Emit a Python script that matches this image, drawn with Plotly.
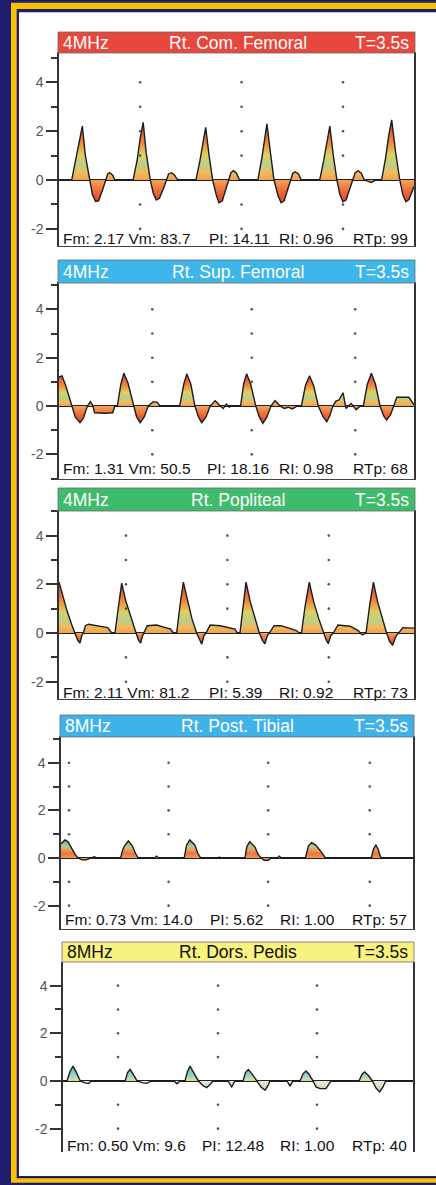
import plotly.graph_objects as go

W, H = 436, 1185

# ---------------- data ----------------
panel_names = ["Rt. Com. Femoral", "Rt. Sup. Femoral", "Rt. Popliteal",
               "Rt. Post. Tibial", "Rt. Dors. Pedis"]
probe_freqs = ["4MHz", "4MHz", "4MHz", "8MHz", "8MHz"]
sweep_labels = ["T=3.5s", "T=3.5s", "T=3.5s", "T=3.5s", "T=3.5s"]
stats_fm_vm = ["Fm: 2.17 Vm: 83.7", "Fm: 1.31 Vm: 50.5", "Fm: 2.11 Vm: 81.2",
               "Fm: 0.73 Vm: 14.0", "Fm: 0.50 Vm: 9.6"]
stats_pi = ["PI: 14.11", "PI: 18.16", "PI: 5.39", "PI: 5.62", "PI: 12.48"]
stats_ri = ["RI: 0.96", "RI: 0.98", "RI: 0.92", "RI: 1.00", "RI: 1.00"]
stats_rtp = ["RTp: 99", "RTp: 68", "RTp: 73", "RTp: 57", "RTp: 40"]

y_tick_vals = [-2, 0, 2, 4]
y_tick_text = ["-2", "0", "2", "4"]
y_minor_vals = [-3, -1, 1, 3, 5]
time_range = [0, 3.5]
marker_levels = [4, 3, 2, 1, -1, -2]

# Rt. Common Femoral (time s, velocity)
cf_t = [0.125, 0.16, 0.20, 0.23, 0.26, 0.30, 0.33, 0.36, 0.39, 0.43, 0.46, 0.48, 0.50, 0.53, 0.55,
        0.73, 0.77, 0.80, 0.83, 0.86, 0.90, 0.93, 0.96, 0.99, 1.03, 1.055, 1.08, 1.11, 1.14, 1.17,
        1.35, 1.39, 1.42, 1.446, 1.48, 1.515, 1.55, 1.577, 1.61, 1.645, 1.67, 1.695, 1.72, 1.75, 1.78,
        1.96, 2.00, 2.03, 2.05, 2.085, 2.12, 2.16, 2.19, 2.22, 2.255, 2.28, 2.305, 2.33, 2.36, 2.39,
        2.57, 2.61, 2.64, 2.67, 2.705, 2.74, 2.77, 2.80, 2.83, 2.865, 2.895, 2.92, 2.95, 2.98, 3.01, 3.08, 3.12,
        3.18, 3.22, 3.25, 3.28, 3.32, 3.36, 3.39, 3.42, 3.45, 3.50]
cf_v = [0, 0.7, 1.6, 2.21, 1.0, 0, -0.6, -0.88, -0.85, -0.4, 0, 0.25, 0.3, 0.2, 0,
        0, 0.8, 1.7, 2.36, 1.1, 0, -0.55, -0.82, -0.75, -0.35, 0, 0.25, 0.3, 0.2, 0,
        0, 0.8, 1.6, 2.16, 1.0, 0, -0.6, -0.93, -0.85, -0.4, 0, 0.3, 0.38, 0.28, 0,
        0, 0.9, 1.8, 2.3, 1.1, 0, -0.65, -0.93, -0.85, -0.4, 0, 0.28, 0.34, 0.25, 0,
        0, 0.8, 1.6, 2.21, 1.0, 0, -0.6, -0.89, -0.82, -0.4, 0, 0.3, 0.38, 0.28, 0, -0.1, 0,
        0, 0.9, 1.8, 2.46, 1.1, 0, -0.6, -0.89, -0.8, -0.27]
cf_marks = [0.80, 1.80, 2.80]

# Rt. Superficial Femoral
sf_t = [0.0, 0.03, 0.07, 0.125, 0.16, 0.207, 0.24, 0.28, 0.31, 0.335, 0.35, 0.45, 0.53, 0.55,
        0.575, 0.61, 0.64, 0.68, 0.733, 0.765, 0.80, 0.84, 0.88, 0.93, 0.97, 0.995,
        1.19, 1.23, 1.26, 1.30, 1.34, 1.375, 1.407, 1.45, 1.49, 1.54, 1.59, 1.62, 1.65, 1.68, 1.70,
        1.79, 1.82, 1.85, 1.89, 1.94, 1.975, 2.01, 2.05, 2.09, 2.13, 2.18, 2.22, 2.26, 2.30, 2.35,
        2.39, 2.43, 2.47, 2.51, 2.557, 2.60, 2.64, 2.67, 2.70, 2.73, 2.76, 2.80, 2.83, 2.88, 2.93, 2.97,
        3.00, 3.04, 3.08, 3.12, 3.165, 3.20, 3.23, 3.27, 3.30, 3.33, 3.45, 3.50]
sf_v = [1.2, 1.25, 0.8, 0, -0.45, -0.69, -0.5, 0, 0.18, 0, -0.28, -0.3, -0.28, 0,
        0, 0.9, 1.36, 0.95, 0, -0.45, -0.69, -0.45, 0, 0.18, 0.15, 0,
        0, 0.9, 1.33, 0.9, 0, -0.45, -0.69, -0.45, 0, 0.22, 0, -0.1, 0.08, -0.05, 0,
        0, 0.9, 1.33, 0.9, 0, -0.45, -0.72, -0.45, 0, 0.22, 0, -0.1, -0.05, -0.12, 0,
        0, 0.85, 1.25, 0.85, 0, -0.42, -0.65, -0.4, 0, 0.2, 0.25, 0.55, -0.1, 0.1, -0.15, 0,
        0, 0.9, 1.36, 0.9, 0, -0.4, -0.58, -0.35, 0, 0.36, 0.36, 0.05]
sf_marks = [0.92, 1.90, 2.92]

# Rt. Popliteal
pop_t = [0.0, 0.04, 0.08, 0.125, 0.158, 0.185, 0.207, 0.225, 0.24, 0.26, 0.29, 0.37, 0.48, 0.52,
         0.552, 0.59, 0.618, 0.66, 0.71, 0.76, 0.785, 0.805, 0.825, 0.838, 0.87, 0.96, 1.10, 1.127,
         1.16, 1.195, 1.226, 1.27, 1.31, 1.357, 1.385, 1.407, 1.43, 1.449, 1.49, 1.59, 1.735, 1.758,
         1.784, 1.815, 1.844, 1.885, 1.93, 1.975, 2.005, 2.03, 2.055, 2.074, 2.12, 2.19, 2.34, 2.37,
         2.39, 2.43, 2.468, 2.51, 2.56, 2.606, 2.635, 2.655, 2.68, 2.705, 2.75, 2.87, 2.95, 2.99, 3.017,
         3.027, 3.065, 3.10, 3.14, 3.185, 3.23, 3.26, 3.29, 3.32, 3.345, 3.39, 3.50]
pop_v = [2.09, 1.5, 0.9, 0.35, 0, -0.3, -0.41, -0.1, 0, 0.3, 0.36, 0.3, 0.22, 0,
         0, 1.2, 2.05, 1.3, 0.6, 0, -0.3, -0.41, -0.1, 0, 0.3, 0.33, 0.16, 0,
         0, 1.2, 2.09, 1.3, 0.6, 0, -0.3, -0.46, -0.1, 0, 0.33, 0.3, 0.16, 0,
         0, 1.2, 2.09, 1.3, 0.6, 0, -0.3, -0.44, -0.1, 0, 0.3, 0.3, 0.1, 0,
         0, 1.2, 2.09, 1.3, 0.6, 0, -0.3, -0.44, -0.1, 0, 0.33, 0.28, 0.1, -0.08, 0,
         0, 1.2, 2.09, 1.3, 0.6, 0, -0.35, -0.5, -0.15, 0, 0.22, 0.2]
pop_marks = [0.66, 1.66, 2.66]

# Rt. Posterior Tibial
pt_t = [0.0, 0.02, 0.04, 0.07, 0.10, 0.14, 0.17, 0.21, 0.25, 0.29, 0.33, 0.36,
        0.593, 0.61, 0.63, 0.67, 0.71, 0.74, 0.768, 0.93, 0.95, 0.97,
        1.225, 1.24, 1.25, 1.28, 1.33, 1.36, 1.39, 1.56, 1.575, 1.59,
        1.83, 1.84, 1.85, 1.877, 1.93, 1.96, 1.99, 2.02, 2.06, 2.09, 2.15, 2.17, 2.19,
        2.43, 2.445, 2.46, 2.49, 2.53, 2.58, 2.61, 2.63,
        3.086, 3.095, 3.105, 3.13, 3.155, 3.17, 3.185, 3.50]
pt_v = [0.6, 0.7, 0.76, 0.68, 0.45, 0.15, 0, -0.08, -0.08, 0, 0.05, 0,
        0, 0.3, 0.5, 0.72, 0.5, 0.2, 0, 0, 0.08, 0,
        0, 0.35, 0.55, 0.76, 0.55, 0.2, 0, 0, 0.04, 0,
        0, 0.3, 0.5, 0.69, 0.45, 0.15, 0, -0.1, -0.1, 0, 0, 0.08, 0,
        0, 0.3, 0.5, 0.65, 0.55, 0.3, 0.1, 0,
        0, 0.2, 0.35, 0.55, 0.35, 0.12, 0, 0]
pt_marks = [0.08, 1.07, 2.06, 3.07]

# Rt. Dorsalis Pedis
dp_t = [0.0, 0.04, 0.07, 0.10, 0.135, 0.173, 0.22, 0.256, 0.28,
        0.622, 0.645, 0.672, 0.70, 0.74, 0.80, 0.84, 0.88,
        1.11, 1.14, 1.17,
        1.22, 1.245, 1.27, 1.31, 1.354, 1.40, 1.437, 1.47, 1.50,
        1.65, 1.687, 1.72,
        1.80, 1.825, 1.853, 1.89, 1.936, 1.98, 2.02, 2.05, 2.07,
        2.24, 2.27, 2.30,
        2.37, 2.40, 2.43, 2.46, 2.50, 2.53, 2.57, 2.63, 2.68,
        2.96, 2.99, 3.017, 3.05, 3.094, 3.13, 3.167, 3.20, 3.227, 3.50]
dp_v = [0, 0, 0.4, 0.62, 0.35, 0, -0.08, -0.11, 0,
        0, 0.35, 0.48, 0.3, 0, -0.08, -0.1, 0,
        0, -0.12, 0,
        0, 0.4, 0.62, 0.35, 0, -0.2, -0.28, -0.15, 0,
        0, -0.25, 0,
        0, 0.35, 0.48, 0.3, 0, -0.25, -0.39, -0.2, 0,
        0, -0.22, 0,
        0, 0.3, 0.42, 0.28, 0, -0.25, -0.32, -0.32, 0,
        0, 0.28, 0.38, 0.25, 0, -0.3, -0.46, -0.25, 0, 0]
dp_marks = [0.55, 1.55, 2.54]

series_t = [cf_t, sf_t, pop_t, pt_t, dp_t]
series_v = [cf_v, sf_v, pop_v, pt_v, dp_v]
series_marks = [cf_marks, sf_marks, pop_marks, pt_marks, dp_marks]

# ---------------- layout / style (pixels) ----------------
NAVY = "#1f1b6e"
GOLD = "#f6c300"
bar_colors = ["#e8473d", "#3db6ea", "#3fbb6c", "#3fb2ea", "#f8f27e"]
bar_text_colors = ["white", "white", "white", "white", "#111111"]
# x0, x1, bar_top, plot_top, plot_bottom
geom = [
    (59, 414, 32, 53, 246),
    (59, 414, 260, 283, 479),
    (59, 414, 488, 511, 699),
    (61, 413, 715, 737, 929),
    (63, 413, 942, 962, 1152),
]
y_ranges = [[-2.7, 5.2], [-3.02, 5.09], [-2.71, 5.01], [-2.98, 5.08], [-2.98, 4.99]]
show_bottom_line = [True, True, True, True, False]
stats_y = [238, 468, 692, 919, 1145]
pi_x = [207, 205, 207, 208, 200]
ri_x = [277, 277, 277, 278, 278]

# fill palettes: (neg_far, neg_mid, neg_near, pos_base, pos_12, pos_26, pos_42, pos_62, pos_top)
warm = ["#e3402c", "#ec6a36", "#f3a25a", "#f2a052", "#efbb5c", "#b9d08c", "#dfcf5e", "#f08a3e", "#e2382b"]
tibial = ["#e3502f", "#ee7a40", "#f3a25a", "#f09a55", "#ef8848", "#ec7444", "#e99c58", "#b8c890", "#5fb3a8"]
pedis = ["#b8c8c0", "#d4dcc8", "#e8ead8", "#e6d67a", "#cfe0a0", "#a6d8c6", "#8fcfcf", "#86c2d4", "#6fb3c8"]
palettes = [warm, warm, warm, tibial, pedis]


def fx(p):
    return p / W


def fy(p):
    return 1 - p / H


def gradient(vmin, vmax, pal):
    f0 = -vmin / (vmax - vmin)
    pos = lambda a: f0 + a * (1 - f0)
    return [
        [0.0, pal[0]],
        [f0 * 0.5, pal[1]],
        [max(f0 - 0.002, 0.001), pal[2]],
        [f0, pal[3]],
        [pos(0.12), pal[4]],
        [pos(0.26), pal[5]],
        [pos(0.42), pal[6]],
        [pos(0.62), pal[7]],
        [1.0, pal[8]],
    ]


fig = go.Figure()
layout = {}
shapes = []
annotations = []

# frame
shapes.append(dict(type="rect", xref="paper", yref="paper", layer="below",
                   x0=fx(11), x1=fx(W + 5), y0=fy(2.7), y1=fy(1182.7),
                   fillcolor=GOLD, line=dict(width=0)))
shapes.append(dict(type="rect", xref="paper", yref="paper", layer="below",
                   x0=fx(16.7), x1=fx(W + 5), y0=fy(9), y1=fy(1178.3),
                   fillcolor=NAVY, line=dict(width=0)))
shapes.append(dict(type="rect", xref="paper", yref="paper", layer="below",
                   x0=fx(19), x1=fx(W + 5), y0=fy(12.3), y1=fy(1176),
                   fillcolor="white", line=dict(width=0)))

tick_font = dict(family="Liberation Sans, Arial", size=14, color="#555555")
bar_font_size = 17.5
stats_font = dict(family="Liberation Sans, Arial", size=15.5, color="#111111")

for i in range(5):
    ax = "" if i == 0 else str(i + 1)
    x0, x1, bt, pt, pb = geom[i]
    t, v = series_t[i], series_v[i]
    vmin, vmax = min(v), max(v)
    fig.add_trace(go.Scatter(
        x=t, y=v, xaxis="x" + ax, yaxis="y" + ax, mode="lines",
        line=dict(color="#1c1c1c", width=1.4, shape="linear"),
        fill="tozeroy",
        fillgradient=dict(type="vertical", colorscale=gradient(vmin, vmax, palettes[i]),
                          start=vmin, stop=vmax),
        hoverinfo="skip", showlegend=False))
    mx = [m for m in series_marks[i] for _ in marker_levels]
    my = [lv for _ in series_marks[i] for lv in marker_levels]
    fig.add_trace(go.Scatter(
        x=mx, y=my, xaxis="x" + ax, yaxis="y" + ax, mode="markers",
        marker=dict(size=2.6, color="#555555"), hoverinfo="skip", showlegend=False))

    layout["xaxis" + ax] = dict(
        domain=[fx(x0), fx(x1)], range=time_range, anchor="y" + ax,
        showline=show_bottom_line[i], mirror=True, linecolor="#444444", linewidth=1.3,
        showgrid=False, zeroline=False, showticklabels=False, ticks="")
    layout["yaxis" + ax] = dict(
        domain=[fy(pb), fy(pt)], range=y_ranges[i], anchor="x" + ax,
        showline=True, mirror=True, linecolor="#333333", linewidth=1.5,
        showgrid=False, zeroline=True, zerolinecolor="#222222", zerolinewidth=1.5,
        tickmode="array", tickvals=y_tick_vals, ticktext=y_tick_text,
        ticks="outside", ticklen=11, tickwidth=2, tickcolor="#333333",
        tickfont=tick_font,
        minor=dict(tickmode="array", tickvals=y_minor_vals, ticks="outside",
                   ticklen=6, tickwidth=2, tickcolor="#333333", showgrid=False))

    # title bar
    shapes.append(dict(type="rect", xref="paper", yref="paper",
                       x0=fx(x0 - 1), x1=fx(x1 + 1), y0=fy(pt), y1=fy(bt),
                       fillcolor=bar_colors[i], line=dict(color="#6a6a6a", width=0.8)))
    yc = fy((bt + pt) / 2)
    bf = dict(family="Liberation Sans, Arial", size=bar_font_size, color=bar_text_colors[i])
    annotations.append(dict(xref="paper", yref="paper", x=fx(x0 + 2), y=yc,
                            xanchor="left", yanchor="middle", text=probe_freqs[i],
                            showarrow=False, font=bf))
    annotations.append(dict(xref="paper", yref="paper", x=fx(238), y=yc,
                            xanchor="center", yanchor="middle", text=panel_names[i],
                            showarrow=False, font=bf))
    annotations.append(dict(xref="paper", yref="paper", x=fx(x1 - 3), y=yc,
                            xanchor="right", yanchor="middle", text=sweep_labels[i],
                            showarrow=False, font=bf))
    # stats line
    sy = fy(stats_y[i])
    annotations.append(dict(xref="paper", yref="paper", x=fx(x0 + 2), y=sy,
                            xanchor="left", yanchor="middle", text=stats_fm_vm[i],
                            showarrow=False, font=stats_font))
    annotations.append(dict(xref="paper", yref="paper", x=fx(pi_x[i]), y=sy,
                            xanchor="left", yanchor="middle", text=stats_pi[i],
                            showarrow=False, font=stats_font))
    annotations.append(dict(xref="paper", yref="paper", x=fx(ri_x[i]), y=sy,
                            xanchor="left", yanchor="middle", text=stats_ri[i],
                            showarrow=False, font=stats_font))
    annotations.append(dict(xref="paper", yref="paper", x=fx(x1 - 4), y=sy,
                            xanchor="right", yanchor="middle", text=stats_rtp[i],
                            showarrow=False, font=stats_font))

fig.update_layout(
    width=W, height=H, margin=dict(l=0, r=0, t=0, b=0),
    paper_bgcolor=NAVY, plot_bgcolor="white",
    shapes=shapes, annotations=annotations, showlegend=False,
    **layout)

fig.write_html("out.html", config={"displayModeBar": False},
               post_script="document.body.style.margin='0';")
